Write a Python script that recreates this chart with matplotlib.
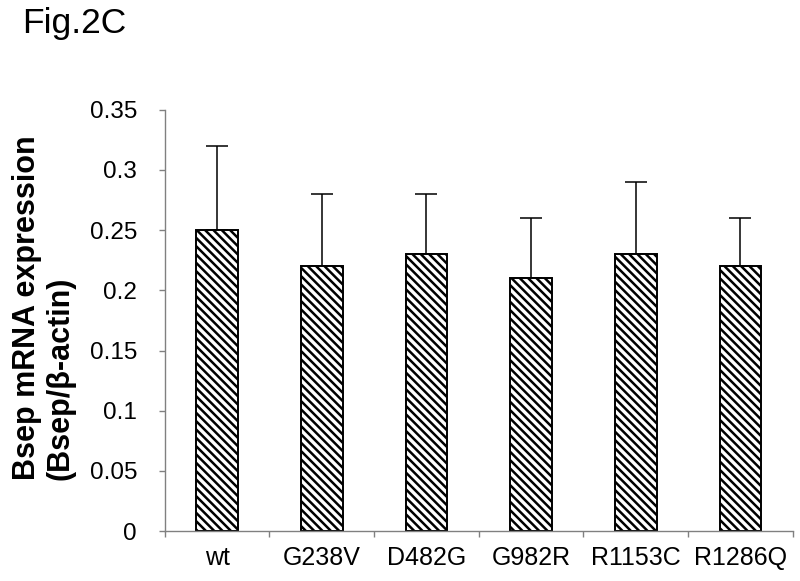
import matplotlib.pyplot as plt
import numpy as np

plt.rcParams['font.family'] = ['Liberation Sans', 'DejaVu Sans']
plt.rcParams['hatch.linewidth'] = 1.8

categories = ["wt", "G238V", "D482G", "G982R", "R1153C", "R1286Q"]
means = [0.25, 0.22, 0.23, 0.21, 0.23, 0.22]
errors = [0.07, 0.06, 0.05, 0.05, 0.06, 0.04]
y_ticks = [0, 0.05, 0.1, 0.15, 0.2, 0.25, 0.3, 0.35]
y_tick_labels = ["0", "0.05", "0.1", "0.15", "0.2", "0.25", "0.3", "0.35"]

fig = plt.figure(figsize=(8, 5.81), dpi=100)
ax = fig.add_axes([0.206, 0.086, 0.785, 0.725])

x = np.arange(len(categories))
ax.bar(x, means, width=0.4, color="white", edgecolor="black",
       linewidth=1.4, hatch="\\\\\\\\", zorder=2)
ax.errorbar(x, means, yerr=[np.zeros(len(errors)), errors], fmt="none",
            ecolor="black", elinewidth=1.1, capsize=8, capthick=1.1, zorder=1)

ax.set_xlim(-0.5, len(categories) - 0.5)
ax.set_ylim(0, 0.35)
ax.set_yticks(y_ticks)
ax.set_yticklabels(y_tick_labels, fontsize=17.5)
ax.set_xticks(x)
ax.set_xticklabels(categories, fontsize=18)
ax.set_xticks(np.arange(len(categories) + 1) - 0.5, minor=True)
ax.tick_params(axis="x", which="major", length=0, pad=11)
ax.tick_params(axis="x", which="minor", length=4, color="#808080", width=1)
ax.tick_params(axis="y", length=4, color="#808080", width=1, pad=16)

for side in ["top", "right"]:
    ax.spines[side].set_visible(False)
for side in ["left", "bottom"]:
    ax.spines[side].set_color("#808080")
    ax.spines[side].set_linewidth(1)

ax.set_ylabel("Bsep mRNA expression\n(Bsep/\u03b2-actin)", fontsize=22,
              fontweight="bold", linespacing=1.15, multialignment="left")
ax.yaxis.set_label_coords(-0.142, 0.53)

fig.text(0.0275, 0.943, "Fig.2C", fontsize=25.5, va="baseline", ha="left")

fig.savefig("out.png", dpi=100)
